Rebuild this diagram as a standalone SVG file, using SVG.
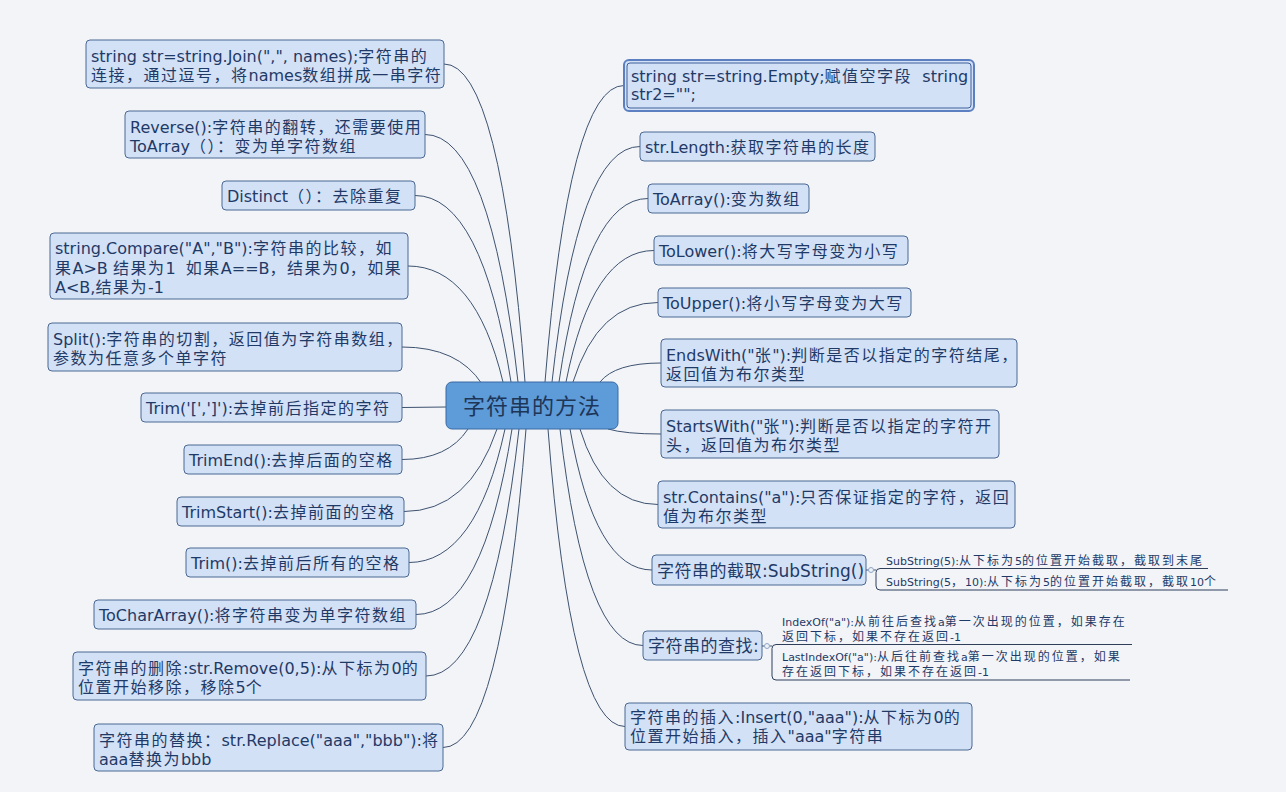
<svg xmlns="http://www.w3.org/2000/svg" width="1286" height="792" viewBox="0 0 1286 792">
<style>
text { font-family: "DejaVu Sans", "Noto Sans CJK SC", sans-serif; font-size: 16px; fill: #1f3a66; white-space: pre; }
.c { font-family: "Noto Sans CJK SC", sans-serif; letter-spacing: 1.5px; }
.box { fill: #d3e1f6; stroke: #4b6893; stroke-width: 1; }
.conn path { fill: none; stroke: #3e526f; stroke-width: 1; }
.br { fill: none; stroke: #2f3f5a; stroke-width: 1; }
.dot { fill: #eef2f8; stroke: #8fa5c4; stroke-width: 1; }
.sub text { font-size: 11px; }
.sub .c { font-size: 12px; letter-spacing: 2px; }
.mid text { font-size: 17px; }
.mid .c { letter-spacing: 0.5px; }
</style>
<rect x="0" y="0" width="1286" height="792" fill="#f2f4f8"/>
<g id="connectors" class="conn">
<path d="M525,382 Q501,64 444,64"/>
<path d="M518,382 Q490,134.5 425,134.5"/>
<path d="M511,382 Q482,195.5 415,195.5"/>
<path d="M503,382 Q475,266 408,266"/>
<path d="M482,384 Q458,347 402,347"/>
<path d="M446,407 L402,407.5"/>
<path d="M468,429 Q448,459.5 402,459.5"/>
<path d="M497,429 Q469,511.5 404,511.5"/>
<path d="M505,429 Q476,562.5 409,562.5"/>
<path d="M512,429 Q483,614.5 416,614.5"/>
<path d="M519,429 Q491,676 426,676"/>
<path d="M526,429 Q501,747.5 443,747.5"/>
<path d="M545,382 Q569,85.5 624,85.5"/>
<path d="M552,382 Q578,146.5 640,146.5"/>
<path d="M559,382 Q586,198.5 648,198.5"/>
<path d="M566,382 Q592,250.5 654,250.5"/>
<path d="M573,382 Q598,302.5 658,302.5"/>
<path d="M600,382 Q615,363 661,363"/>
<path d="M608,429 Q625,434 661,434"/>
<path d="M580,429 Q603,504.5 658,504.5"/>
<path d="M570,429 Q595,570 652,570"/>
<path d="M560,429 Q585,645.5 643,645.5"/>
<path d="M548,429 Q571,726.5 625,726.5"/>
<path d="M866,570 L868.5,570"/>
<path d="M873.5,570 L876,570"/>
<path d="M762,646 L764.5,646"/>
<path d="M769.5,646 L772,646"/>
</g>
<g id="root">
<rect x="446" y="382" width="172" height="47" rx="6" fill="#5d9bd9" stroke="#3b6aa3" stroke-width="1"/>
<text x="532" y="414" text-anchor="middle" class="c" style="font-size:22px;letter-spacing:1px;fill:#1d3557">字符串的方法</text>
</g>
<g id="n-join"><rect class="box" x="86" y="40" width="358" height="48" rx="4"/>
<text><tspan x="91" y="61.5">string str=string.Join(",", names);<tspan class="c">字符串的</tspan></tspan><tspan x="91" y="80.5"><tspan class="c">连接，通过逗号，将</tspan>names<tspan class="c">数组拼成一串字符</tspan></tspan></text></g>
<g id="n-reverse"><rect class="box" x="125" y="111" width="300" height="47" rx="4"/>
<text><tspan x="130" y="132.5">Reverse():<tspan class="c">字符串的翻转，还需要使用</tspan></tspan><tspan x="130" y="151.5">ToArray<tspan class="c">（）：变为单字符数组</tspan></tspan></text></g>
<g id="n-distinct"><rect class="box" x="222" y="181" width="193" height="29" rx="4"/>
<text x="227" y="201.5">Distinct<tspan class="c">（）：去除重复</tspan></text></g>
<g id="n-compare"><rect class="box" x="50" y="233" width="358" height="66" rx="4"/>
<text><tspan x="55" y="254">string.Compare("A","B"):<tspan class="c">字符串的比较，如</tspan></tspan><tspan x="55" y="273.5"><tspan class="c">果</tspan>A&gt;B <tspan class="c">结果为</tspan>1  <tspan class="c">如果</tspan>A==B<tspan class="c">，结果为</tspan>0<tspan class="c">，如果</tspan></tspan><tspan x="55" y="293">A&lt;B,<tspan class="c">结果为</tspan>-1</tspan></text></g>
<g id="n-split"><rect class="box" x="48" y="323" width="354" height="48" rx="4"/>
<text><tspan x="53" y="344.5">Split():<tspan class="c">字符串的切割，返回值为字符串数组，</tspan></tspan><tspan x="53" y="363.5" class="c">参数为任意多个单字符</tspan></text></g>
<g id="n-trimchars"><rect class="box" x="141" y="393" width="261" height="29" rx="4"/>
<text x="146" y="413.5">Trim('[',']'):<tspan class="c">去掉前后指定的字符</tspan></text></g>
<g id="n-trimend"><rect class="box" x="184" y="445" width="218" height="29" rx="4"/>
<text x="189" y="465.5">TrimEnd():<tspan class="c">去掉后面的空格</tspan></text></g>
<g id="n-trimstart"><rect class="box" x="177" y="497" width="227" height="29" rx="4"/>
<text x="182" y="517.5">TrimStart():<tspan class="c">去掉前面的空格</tspan></text></g>
<g id="n-trim"><rect class="box" x="186" y="548" width="223" height="29" rx="4"/>
<text x="191" y="568.5">Trim():<tspan class="c">去掉前后所有的空格</tspan></text></g>
<g id="n-tochararray"><rect class="box" x="94" y="600" width="322" height="29" rx="4"/>
<text x="99" y="620.5">ToCharArray():<tspan class="c">将字符串变为单字符数组</tspan></text></g>
<g id="n-remove"><rect class="box" x="73" y="652" width="353" height="48" rx="4"/>
<text><tspan x="78" y="673.5"><tspan class="c">字符串的删除</tspan>:str.Remove(0,5):<tspan class="c">从下标为</tspan>0<tspan class="c">的</tspan></tspan><tspan x="78" y="692.5"><tspan class="c">位置开始移除，移除</tspan>5<tspan class="c">个</tspan></tspan></text></g>
<g id="n-replace"><rect class="box" x="94" y="724" width="349" height="47" rx="4"/>
<text><tspan x="99" y="745.5"><tspan class="c">字符串的替换：</tspan>str.Replace("aaa","bbb"):<tspan class="c">将</tspan></tspan><tspan x="99" y="764.5">aaa<tspan class="c">替换为</tspan>bbb</tspan></text></g>
<g id="n-empty"><rect x="624" y="60" width="350" height="51" rx="5" fill="#d3e1f6" stroke="#5b7fc0" stroke-width="2"/>
<rect x="627" y="63" width="344" height="45" rx="3" fill="none" stroke="#3f5f9a" stroke-width="1"/>
<text><tspan x="631" y="81.5">string str=string.Empty;<tspan class="c">赋值空字段</tspan>  string</tspan><tspan x="631" y="100">str2="";</tspan></text></g>
<g id="n-length"><rect class="box" x="640" y="132" width="235" height="29" rx="4"/>
<text x="645" y="152.5">str.Length:<tspan class="c">获取字符串的长度</tspan></text></g>
<g id="n-toarray"><rect class="box" x="648" y="184" width="161" height="29" rx="4"/>
<text x="653" y="204.5">ToArray():<tspan class="c">变为数组</tspan></text></g>
<g id="n-tolower"><rect class="box" x="654" y="236" width="254" height="29" rx="4"/>
<text x="659" y="256.5">ToLower():<tspan class="c">将大写字母变为小写</tspan></text></g>
<g id="n-toupper"><rect class="box" x="658" y="288" width="253" height="29" rx="4"/>
<text x="663" y="308.5">ToUpper():<tspan class="c">将小写字母变为大写</tspan></text></g>
<g id="n-endswith"><rect class="box" x="661" y="339" width="356" height="48" rx="4"/>
<text><tspan x="666" y="360.5">EndsWith("<tspan class="c">张</tspan>"):<tspan class="c">判断是否以指定的字符结尾，</tspan></tspan><tspan x="666" y="379.5" class="c">返回值为布尔类型</tspan></text></g>
<g id="n-startswith"><rect class="box" x="661" y="410" width="338" height="48" rx="4"/>
<text><tspan x="666" y="431.5">StartsWith("<tspan class="c">张</tspan>"):<tspan class="c">判断是否以指定的字符开</tspan></tspan><tspan x="666" y="450.5" class="c">头，返回值为布尔类型</tspan></text></g>
<g id="n-contains"><rect class="box" x="658" y="481" width="357" height="47" rx="4"/>
<text><tspan x="663" y="502.5">str.Contains("a"):<tspan class="c">只否保证指定的字符，返回</tspan></tspan><tspan x="663" y="521.5" class="c">值为布尔类型</tspan></text></g>
<g id="n-substring" class="mid"><rect class="box" x="652" y="555" width="214" height="30" rx="4"/>
<text x="657" y="576.5"><tspan class="c">字符串的截取</tspan>:SubString()</text></g>
<g id="n-substring-subs" class="sub">
<circle class="dot" cx="871" cy="570" r="2.5"/>
<path class="br" d="M1208,568.5 L880,568.5 Q876,568.5 876,572.5 L876,586 Q876,590 880,590 L1228,590"/>
<text><tspan x="886" y="565">SubString(5):<tspan class="c">从下标为</tspan>5<tspan class="c">的位置开始截取，截取到末尾</tspan></tspan><tspan x="886" y="585.5">SubString(5<tspan class="c">，</tspan>10):<tspan class="c">从下标为</tspan>5<tspan class="c">的位置开始截取，截取</tspan>10<tspan class="c">个</tspan></tspan></text>
</g>
<g id="n-find" class="mid"><rect class="box" x="643" y="631" width="119" height="29" rx="4"/>
<text x="648" y="652"><tspan class="c">字符串的查找</tspan>:</text></g>
<g id="n-find-subs" class="sub">
<circle class="dot" cx="767" cy="646" r="2.5"/>
<path class="br" d="M1132,644.5 L776,644.5 Q772,644.5 772,648.5 L772,676 Q772,680 776,680 L1130,680"/>
<text><tspan x="782" y="626">IndexOf("a"):<tspan class="c">从前往后查找</tspan>a<tspan class="c">第一次出现的位置，如果存在</tspan></tspan><tspan x="782" y="640.5"><tspan class="c">返回下标，如果不存在返回</tspan>-1</tspan><tspan x="782" y="661">LastIndexOf("a"):<tspan class="c">从后往前查找</tspan>a<tspan class="c">第一次出现的位置，如果</tspan></tspan><tspan x="782" y="675.5"><tspan class="c">存在返回下标，如果不存在返回</tspan>-1</tspan></text>
</g>
<g id="n-insert"><rect class="box" x="625" y="703" width="347" height="47" rx="4"/>
<text><tspan x="630" y="722.5"><tspan class="c">字符串的插入</tspan>:Insert(0,"aaa"):<tspan class="c">从下标为</tspan>0<tspan class="c">的</tspan></tspan><tspan x="630" y="742"><tspan class="c">位置开始插入，插入</tspan>"aaa"<tspan class="c">字符串</tspan></tspan></text></g>
</svg>
